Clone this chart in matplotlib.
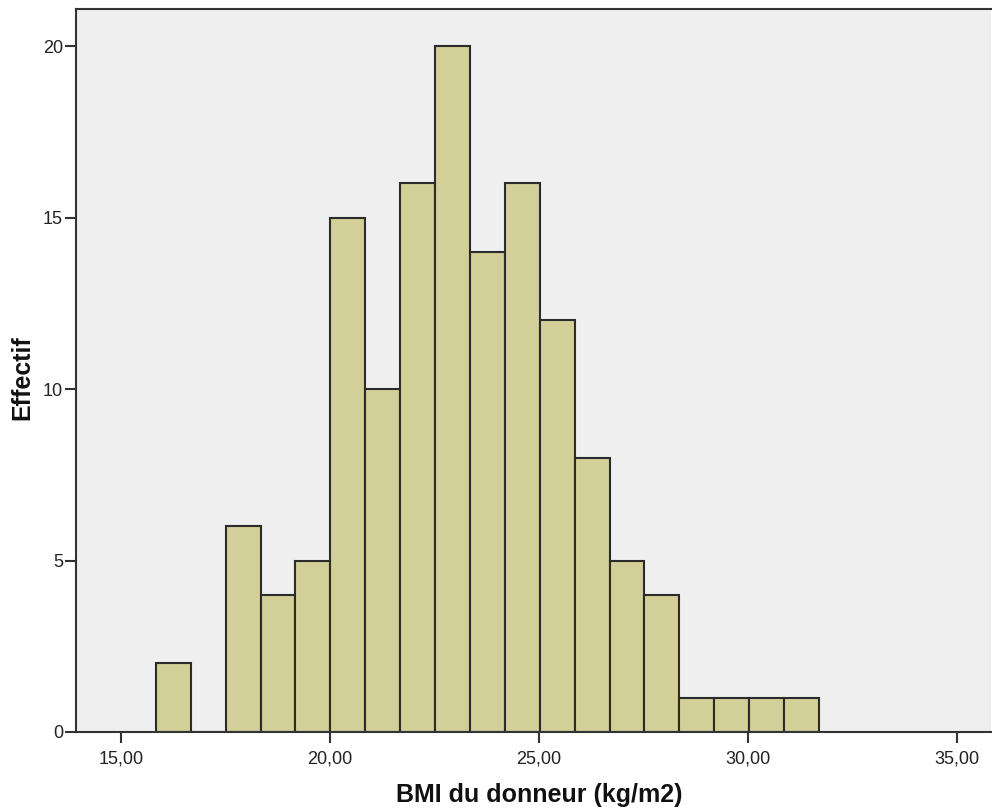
import numpy as np
import matplotlib
matplotlib.use("Agg")
import matplotlib.pyplot as plt

plt.rcParams['font.family'] = ['Liberation Sans', 'DejaVu Sans']

# Data
bin_start = 15.831
bin_width = 0.835
counts = [2, 0, 6, 4, 5, 15, 10, 16, 20, 14, 16, 12, 8, 5, 4, 1, 1, 1, 1]
x_ticks = [15, 20, 25, 30, 35]
x_tick_labels = ["15,00", "20,00", "25,00", "30,00", "35,00"]
y_ticks = [0, 5, 10, 15, 20]
x_label = "BMI du donneur (kg/m2)"
y_label = "Effectif"

edges = bin_start + bin_width * np.arange(len(counts))

fig = plt.figure(figsize=(9.92, 8.11), dpi=100)
ax = fig.add_axes([75.5/992, 79/811, (991-75.5)/992, (732-9)/811])
ax.set_facecolor('#EFEFEF')

ax.bar(edges, counts, width=bin_width, align='edge', color='#D3CF98',
       edgecolor='#2b2b2b', linewidth=1.5)

ax.set_xlim(13.91, 35.81)
ax.set_ylim(0, 21.08)
ax.set_xticks(x_ticks)
ax.set_xticklabels(x_tick_labels)
ax.set_yticks(y_ticks)
ax.tick_params(axis='both', colors='#333333', labelsize=13, width=1.5,
               length=8, direction='out', labelcolor='#222222')
ax.tick_params(axis='x', pad=5)
ax.tick_params(axis='y', pad=1)

for s in ['left', 'bottom', 'top']:
    ax.spines[s].set_color('#333333')
    ax.spines[s].set_linewidth(1.5)
ax.spines['right'].set_visible(False)

ax.set_xlabel(x_label, fontsize=18, fontweight='bold', color='#111111')
ax.set_ylabel(y_label, fontsize=18, fontweight='bold', color='#111111', labelpad=6)
ax.xaxis.set_label_coords(0.507, -0.071)
ax.yaxis.label.set_y(0.49)

fig.savefig('out.png', dpi=100)
